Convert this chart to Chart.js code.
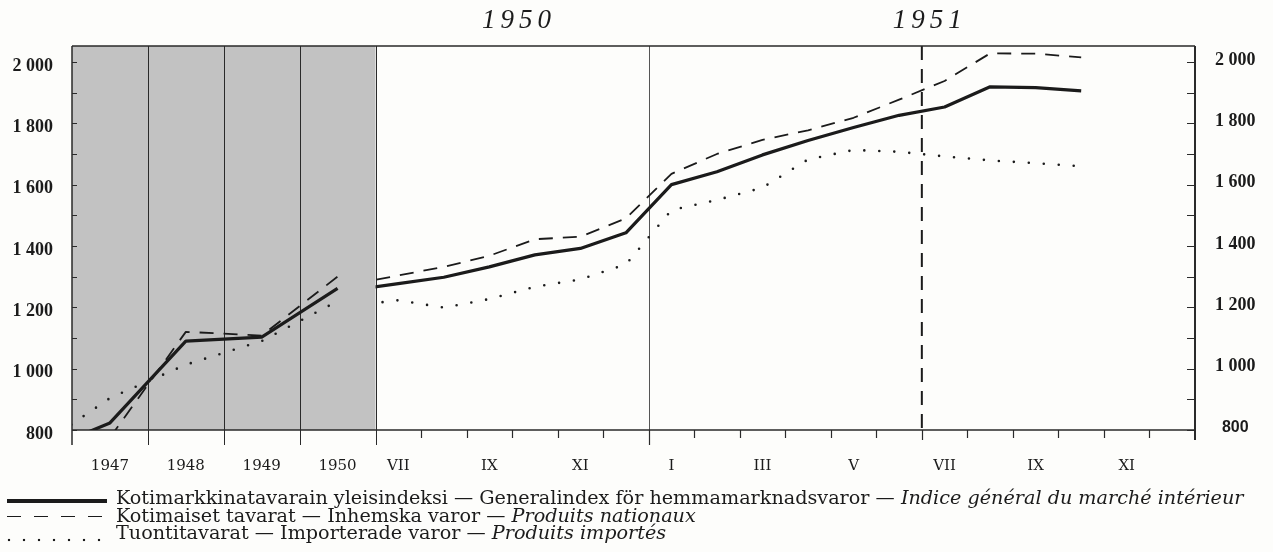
<!DOCTYPE html>
<html>
<head>
<meta charset="utf-8">
<script src="https://cdn.jsdelivr.net/npm/chart.js@4.4.0/dist/chart.umd.min.js"></script>
<style>
  html, body { margin: 0; padding: 0; background: #fdfdfb; }
  #wrap { position: relative; width: 1273px; height: 552px; overflow: hidden; }
  #chart { position: absolute; left: 0; top: 0; }
  .legend { position: absolute; left: 0; top: 489px; font-family: 'DejaVu Serif', serif; font-size: 19.2px;
            line-height: 17.5px; color: #1b1b1b; white-space: nowrap; }
  .row { position: relative; height: 17.5px; }
  .key { position: absolute; left: 7px; width: 100px; }
  .txt { position: absolute; left: 116px; top: 0; }
  .solid { top: 10px; height: 4px; background: #1b1b1b; }
  .dash { top: 9px; height: 1.6px; background: repeating-linear-gradient(to right, #1b1b1b 0 14px, transparent 14px 27px); }
  .dots { top: 14px; height: 4px; background: radial-gradient(circle at 2px 2px, #1b1b1b 1.3px, transparent 1.6px) 0 0 / 15px 4px repeat-x; }
  i { font-style: italic; }
</style>
</head>
<body>
<div id="wrap">
  <canvas id="chart" width="1273" height="552"></canvas>
  <div class="legend" id="legend"></div>
</div>
<script>
// grey block: one year is drawn as wide as 5/3 of a month on the monthly part
const YEAR_SPAN = 5 / 3;

// annual values, 1946 only shows as the start of the lines below the axis
const annualYears    = [1946, 1947, 1948, 1949, 1950];
const annualGeneral  = [720, 823, 1090, 1103, 1262];
const annualDomestic = [null, 775, 1120, 1108, 1300];
const annualImported = [735, 904, 1013, 1090, 1220];

// monthly values VI 1950 - X 1951 (VI is hidden by the grey block)
const months = ['VI 1950', 'VII 1950', 'VIII 1950', 'IX 1950', 'X 1950', 'XI 1950', 'XII 1950',
  'I 1951', 'II 1951', 'III 1951', 'IV 1951', 'V 1951', 'VI 1951', 'VII 1951', 'VIII 1951', 'IX 1951', 'X 1951'];
const monthlyGeneral  = [1257, 1277, 1298, 1332, 1371, 1392, 1443, 1600, 1642, 1697, 1744, 1786, 1826, 1853, 1919, 1916, 1906];
const monthlyDomestic = [1275, 1304, 1332, 1368, 1422, 1430, 1490, 1635, 1700, 1746, 1777, 1818, 1877, 1938, 2028, 2027, 2015];
const monthlyImported = [1205, 1223, 1199, 1227, 1267, 1291, 1340, 1517, 1550, 1590, 1682, 1713, 1707, 1692, 1679, 1670, 1660];

// tick labels
const yearTicks  = ['1947', '1948', '1949', '1950'];
const monthTicks = ['VII', 'IX', 'XI', 'I', 'III', 'V', 'VII', 'IX', 'XI'];
const yearTitles = ['1950', '1951'];

const seriesNames = [
  ['Kotimarkkinatavarain yleisindeksi — Generalindex för hemmamarknadsvaror — ', 'Indice général du marché intérieur'],
  ['Kotimaiset tavarat — Inhemska varor — ', 'Produits nationaux'],
  ['Tuontitavarat — Importerade varor — ', 'Produits importés']
];

const INK = '#1b1b1b';
const yearX = y => (y - 1950.5) * YEAR_SPAN;     // middle of the year slot
const monthX = i => i - 0.5;                      // middle of month, 0 = start of VII 1950

const tickPos = [], tickText = [];
yearTicks.forEach(t => { tickPos.push(yearX(+t)); tickText.push(t); });
monthTicks.forEach((t, i) => { tickPos.push(i * 2 + 0.5); tickText.push(t); });

function fmt(v) {
  if (v % 200 !== 0) return '';
  return v >= 1000 ? Math.floor(v / 1000) + ' ' + String(v % 1000).padStart(3, '0') : String(v);
}

function annual(vals) { return annualYears.map((y, i) => ({ x: yearX(y), y: vals[i] })); }
function monthly(vals) { return vals.map((v, i) => ({ x: monthX(i), y: v })); }

const styles = [
  { borderWidth: 3.2, borderDash: [] },
  { borderWidth: 1.8, borderDash: [14, 10] },
  { borderWidth: 2.6, borderDash: [0, 15], borderCapStyle: 'round' }
];

function ds(data, s, isMonthly) {
  return Object.assign({ data, borderColor: INK, pointRadius: 0, tension: 0, fill: false,
    spanGaps: false, monthly: isMonthly, borderCapStyle: 'butt', borderJoinStyle: 'round' }, s);
}

const frame = {
  id: 'frame',
  beforeDatasetsDraw(chart) {
    const { ctx, chartArea: a, scales: { x, y } } = chart;
    const px = v => Math.round(x.getPixelForValue(v)) + 0.5;
    const x0 = x.getPixelForValue(0);
    ctx.save();
    ctx.fillStyle = '#c2c2c2';
    ctx.fillRect(a.left, a.top, x0 - a.left, a.bottom - a.top);

    ctx.strokeStyle = '#2a2a2a';
    ctx.lineWidth = 1;
    // year slots and start of 1951
    for (let k = 1; k <= 4; k++) {
      const p = px((k - 4) * YEAR_SPAN);
      ctx.beginPath(); ctx.moveTo(p, a.top); ctx.lineTo(p, a.bottom + 15); ctx.stroke();
    }
    ctx.strokeStyle = '#555';
    let p = px(6);
    ctx.beginPath(); ctx.moveTo(p, a.top); ctx.lineTo(p, a.bottom + 15); ctx.stroke();
    // mid 1951
    ctx.strokeStyle = INK;
    ctx.lineWidth = 2;
    ctx.setLineDash([14, 9]);
    p = x.getPixelForValue(12);
    ctx.beginPath(); ctx.moveTo(p, a.top); ctx.lineTo(p, a.bottom); ctx.stroke();
    ctx.setLineDash([]);

    // frame
    ctx.strokeStyle = '#2a2a2a';
    ctx.lineWidth = 1.5;
    ctx.beginPath();
    ctx.moveTo(a.left, a.top); ctx.lineTo(a.right, a.top);
    ctx.moveTo(a.left, a.bottom); ctx.lineTo(a.right, a.bottom);
    ctx.moveTo(a.left, a.top); ctx.lineTo(a.left, a.bottom + 15);
    ctx.stroke();
    ctx.lineWidth = 2;
    ctx.beginPath(); ctx.moveTo(a.right, a.top); ctx.lineTo(a.right, a.bottom + 10); ctx.stroke();

    // month ticks under the axis
    ctx.lineWidth = 1.2;
    for (let k = 1; k < 18; k++) {
      const len = k === 6 ? 15 : (k === 12 ? 10 : 8);
      const q = px(k);
      ctx.beginPath(); ctx.moveTo(q, a.bottom); ctx.lineTo(q, a.bottom + len); ctx.stroke();
    }
    // value ticks inside the frame
    for (let v = 800; v <= 2000; v += 100) {
      const q = Math.round(y.getPixelForValue(v)) + 0.5;
      ctx.beginPath();
      ctx.moveTo(a.left, q); ctx.lineTo(a.left + 5, q);
      ctx.moveTo(a.right, q); ctx.lineTo(a.right - 8, q);
      ctx.stroke();
    }
    ctx.restore();
  },
  beforeDatasetDraw(chart, args) {
    if (!chart.data.datasets[args.index].monthly) return;
    const { ctx, chartArea: a, scales: { x } } = chart;
    const x0 = x.getPixelForValue(0);
    ctx.save();
    ctx.beginPath();
    ctx.rect(x0, 0, a.right - x0 + 5, chart.height);
    ctx.clip();
  },
  afterDatasetDraw(chart, args) {
    if (chart.data.datasets[args.index].monthly) chart.ctx.restore();
  },
  afterDraw(chart) {
    const { ctx, scales: { x } } = chart;
    ctx.save();
    ctx.fillStyle = INK;
    ctx.font = 'italic 27px "Liberation Serif"';
    ctx.textAlign = 'center';
    ctx.textBaseline = 'middle';
    if ('letterSpacing' in ctx) ctx.letterSpacing = '5px';
    // titles sit a little right of the middle of each year's months
    ctx.fillText(yearTitles[0], x.getPixelForValue(3) + 7, 21);
    ctx.fillText(yearTitles[1], x.getPixelForValue(12) + 8, 21);
    ctx.restore();
  }
};

const chart = new Chart(document.getElementById('chart'), {
  type: 'line',
  data: {
    datasets: [
      ds(annual(annualGeneral), styles[0], false),
      ds(annual(annualDomestic), styles[1], false),
      ds(annual(annualImported), styles[2], false),
      ds(monthly(monthlyGeneral), styles[0], true),
      ds(monthly(monthlyDomestic), styles[1], true),
      ds(monthly(monthlyImported), styles[2], true)
    ]
  },
  options: {
    responsive: false,
    animation: false,
    layout: { padding: { top: 46, left: 0, right: 0, bottom: 0 } },
    plugins: { legend: { display: false }, tooltip: { enabled: false } },
    scales: {
      x: {
        type: 'linear',
        min: -4 * YEAR_SPAN,
        max: 18,
        grid: { display: false, drawTicks: false },
        border: { display: false },
        afterBuildTicks: s => { s.ticks = tickPos.map(v => ({ value: v })); },
        afterFit: s => { s.height = 122; },
        ticks: {
          autoSkip: false, maxRotation: 0, padding: 27, color: INK,
          font: { family: 'DejaVu Serif', size: 15 },
          callback: (v, i) => tickText[i]
        }
      },
      y: {
        position: 'left',
        min: 800, max: 2052,
        grid: { display: false, drawTicks: false },
        border: { display: false },
        afterFit: s => { s.width = 72; },
        ticks: {
          stepSize: 100, includeBounds: false, padding: 19, labelOffset: 4, color: INK,
          font: { family: 'Liberation Serif', size: 18, weight: 'bold' },
          callback: v => fmt(v)
        }
      },
      y2: {
        position: 'right',
        min: 800, max: 2052,
        grid: { display: false, drawTicks: false },
        border: { display: false },
        afterFit: s => { s.width = 78; },
        ticks: {
          stepSize: 100, includeBounds: false, padding: 20, crossAlign: 'center', labelOffset: -2, color: INK,
          font: c => c.tick && c.tick.value === 800
            ? { family: 'Liberation Sans', size: 16, weight: 'bold' }
            : { family: 'Liberation Serif', size: 18, weight: 'bold' },
          callback: v => fmt(v)
        }
      }
    }
  },
  plugins: [frame]
});

// legend under the chart, line samples drawn with css
const keys = ['solid', 'dash', 'dots'];
document.getElementById('legend').innerHTML = seriesNames.map((n, i) =>
  '<div class="row"><span class="key ' + keys[i] + '"></span><span class="txt">' + n[0] + '<i>' + n[1] + '</i></span></div>').join('');
</script>
</body>
</html>
